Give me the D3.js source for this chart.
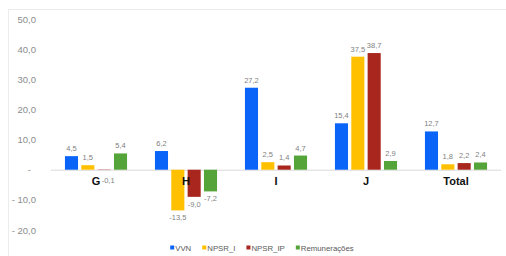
<!DOCTYPE html>
<html><head><meta charset="utf-8">
<script src="https://cdn.jsdelivr.net/npm/d3@7/dist/d3.min.js"></script>
<style>body{margin:0;background:#fff}svg{display:block;font-family:"Liberation Sans",Arial,sans-serif}</style>
</head><body><svg id="c" width="506" height="256"></svg>
<script>
const categories = ["G","H","I","J","Total"];
const seriesNames = ["VVN","NPSR_I","NPSR_IP","Remunerações"];
const seriesColors = ["#0a64f7","#ffc000","#a8261d","#55a43a"];
const VVN = [4.5, 6.2, 27.2, 15.4, 12.7];
const NPSR_I = [1.5, -13.5, 2.5, 37.5, 1.8];
const NPSR_IP = [-0.1, -9.0, 1.4, 38.7, 2.2];
const Remuneracoes = [5.4, -7.2, 4.7, 2.9, 2.4];
const yTicks = [-20,-10,0,10,20,30,40,50];
const series = [VVN, NPSR_I, NPSR_IP, Remuneracoes];

const svg = d3.select("#c");
svg.append("rect").attr("x",8.5).attr("y",9.5).attr("width",520).attr("height",280)
  .attr("fill","none").attr("stroke","#ececec");

const x = d3.scaleBand().domain(categories).range([51,501]).paddingInner(0.31).paddingOuter(0.155);
const xs = d3.scaleBand().domain(seriesNames).range([0,x.bandwidth()]).paddingInner(0.2).paddingOuter(0);
const y = d3.scaleLinear().domain([-20,50]).range([230,19]);

const fmt = v => v===0 ? "-" : (v<0 ? "- " : "") + d3.format(".1f")(Math.abs(v)).replace(".",",");
const yAxis = d3.axisLeft(y).tickValues(yTicks).tickSize(0).tickPadding(0).tickFormat(fmt);
const ga = svg.append("g").attr("transform","translate(36,0)").call(yAxis);
ga.select(".domain").remove();
ga.selectAll("text").attr("fill","#8c8c8c").attr("font-size",9.5).attr("dy","0.32em")
  .attr("dx", d => d===0 ? -5 : 0);

// zero line
svg.append("line").attr("x1",51).attr("x2",501).attr("y1",y(0)+0.5).attr("y2",y(0)+0.5)
  .attr("stroke","#d9d9d9");

const rows = [];
categories.forEach((c,i) => series.forEach((s,j) => rows.push({c, name:seriesNames[j], j, v:s[i]})));

svg.append("g").selectAll("rect").data(rows).join("rect")
  .attr("x", d => x(d.c)+xs(d.name)).attr("width", xs.bandwidth())
  .attr("y", d => y(Math.max(0,d.v))).attr("height", d => Math.abs(y(d.v)-y(0)))
  .attr("fill", d => seriesColors[d.j]);

// category labels
svg.append("g").selectAll("text").data(categories).join("text")
  .attr("x", d => x(d)+x.bandwidth()/2).attr("y", y(0)+15)
  .attr("text-anchor","middle").attr("font-size",11).attr("font-weight","bold").attr("fill","#111")
  .text(d => d);

const tiny = d => d.v<0 && Math.abs(y(d.v)-y(0))<3;
svg.append("g").selectAll("text").data(rows).join("text")
  .attr("x", d => x(d.c)+xs(d.name)+xs.bandwidth()/2 + (tiny(d) ? 4 : 0))
  .attr("y", d => d.v>=0 ? y(d.v)-5 : (tiny(d) ? y(0)+13 : y(d.v)+10))
  .attr("text-anchor","middle").attr("font-size",7.5).attr("fill","#7f7f7f")
  .text(d => d3.format(".1f")(d.v).replace(".",",").replace("−","-"));

// legend
const lg = svg.append("g").attr("transform","translate(0,248)");
const items = lg.selectAll("g").data(seriesNames).join("g");
items.append("rect").attr("x",0).attr("y",-2.5).attr("width",4).attr("height",4).attr("fill",(d,i)=>seriesColors[i]);
items.append("text").attr("x",5).attr("y",0).attr("dy","0.35em").attr("font-size",7.8)
  .attr("fill","#595959").text(d=>d);
let widths = [];
items.each(function(){ widths.push(this.getBBox().width); });
const gap = 11;
const total = d3.sum(widths) + gap*(widths.length-1);
let cx = 262 - total/2;
items.each(function(d,i){ d3.select(this).attr("transform",`translate(${cx},0)`); cx += widths[i]+gap; });
</script></body></html>
